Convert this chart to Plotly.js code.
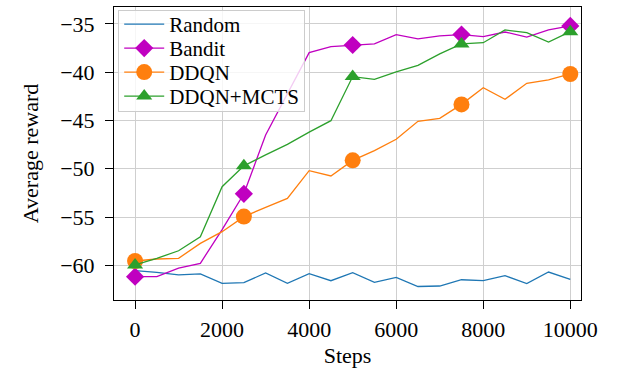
<!DOCTYPE html>
<html>
<head>
<meta charset="utf-8">
<script src="https://cdn.plot.ly/plotly-3.0.1.min.js"></script>
<style>html,body{margin:0;padding:0;background:#fff;}#chart{width:620px;height:373px;}</style>
</head>
<body>
<div id="chart"></div>
<script>
const steps = [0,500,1000,1500,2000,2500,3000,3500,4000,4500,5000,5500,6000,6500,7000,7500,8000,8500,9000,9500,10000];
const markerSteps = [0,2500,5000,7500,10000];
const randomReward = [-60.56,-60.73,-61.0,-60.9,-61.87,-61.8,-60.8,-61.87,-60.87,-61.6,-60.77,-61.77,-61.25,-62.2,-62.15,-61.5,-61.6,-61.08,-61.9,-60.7,-61.46];
const banditReward = [-61.18,-61.18,-60.3,-59.8,-56.3,-52.6,-46.5,-42.3,-37.97,-37.35,-37.18,-37.07,-36.1,-36.55,-36.24,-36.1,-36.3,-35.83,-36.35,-35.62,-35.2];
const ddqnReward = [-59.56,-59.35,-59.28,-57.73,-56.52,-54.96,-54.0,-53.07,-50.2,-50.75,-49.13,-48.13,-46.95,-45.08,-44.77,-43.33,-41.6,-42.8,-41.15,-40.8,-40.18];
const mctsReward = [-59.97,-59.28,-58.5,-57.04,-51.86,-49.7,-48.57,-47.47,-46.2,-45.02,-40.45,-40.74,-39.97,-39.28,-38.1,-37.07,-36.94,-35.62,-35.9,-36.87,-35.8];
const seriesNames = ['Random','Bandit','DDQN','DDQN+MCTS'];
const seriesColors = ['#1f77b4','#c000c0','#ff7f0e','#2ca02c'];
const seriesSymbols = [null,'diamond','circle','triangle-up'];
const seriesMarkerSizes = [0,14,16,14];
const seriesData = [randomReward, banditReward, ddqnReward, mctsReward];

const mIdx = steps.map((s,i)=>markerSteps.includes(s)?i:-1).filter(i=>i>=0);

const traces = [];
seriesData.forEach((ys,k)=>{
  const hasMarker = seriesSymbols[k] !== null;
  traces.push({x: steps, y: ys, type:'scatter', mode:'lines', line:{color:seriesColors[k], width:1.3}, showlegend:false});
  if(hasMarker){
    traces.push({x: mIdx.map(i=>steps[i]), y: mIdx.map(i=>ys[i]), type:'scatter', mode:'markers',
      marker:{symbol:seriesSymbols[k], size:seriesMarkerSizes[k], color:seriesColors[k], line:{width:0}}, showlegend:false});
  }
});
// legend-only entries
seriesData.forEach((ys,k)=>{
  const hasMarker = seriesSymbols[k] !== null;
  const t = {x:[null], y:[null], type:'scatter', name:seriesNames[k], mode: hasMarker?'lines+markers':'lines',
    line:{color:seriesColors[k], width:1.3}, showlegend:true};
  if(hasMarker) t.marker = {symbol:seriesSymbols[k], size:seriesMarkerSizes[k], color:seriesColors[k], line:{width:0}};
  traces.push(t);
});

const font = {family:'"Liberation Serif","DejaVu Serif",serif', color:'#000'};
const layout = {
  width:620, height:373,
  margin:{l:114, r:39, t:7, b:73},
  paper_bgcolor:'#fff', plot_bgcolor:'#fff',
  font: Object.assign({size:22}, font),
  showlegend:true,
  legend:{x:0.009, y:0.99, xanchor:'left', yanchor:'top', bgcolor:'rgba(255,255,255,0.8)', bordercolor:'#cccccc', borderwidth:1, font:Object.assign({size:21},font), tracegroupgap:0, itemwidth:40},
  xaxis:{range:[-484,10246], tickvals:[0,2000,4000,6000,8000,10000], ticktext:['0','2000','4000','6000','8000','10000'],
    showgrid:true, gridcolor:'#cfcfcf', gridwidth:1, zeroline:false, showline:true, linecolor:'#000', linewidth:1, mirror:true,
    ticks:'outside', ticklen:8, tickcolor:'#000', tickfont:Object.assign({size:22},font), ticklabelstandoff:2,
    title:{text:'Steps', font:Object.assign({size:22},font), standoff:6}},
  yaxis:{range:[-63.6,-33.24], tickvals:[-60,-55,-50,-45,-40,-35],
    showgrid:true, gridcolor:'#cfcfcf', gridwidth:1, zeroline:false, showline:true, linecolor:'#000', linewidth:1, mirror:true,
    ticks:'outside', ticklen:8, tickcolor:'#000', tickfont:Object.assign({size:22},font), ticklabelstandoff:6,
    title:{text:'Average reward', font:Object.assign({size:22},font), standoff:15}}
};
Plotly.newPlot('chart', traces, layout, {displayModeBar:false, staticPlot:true}).then(gd=>{
  // tighten legend row spacing to match the reference (about 24px per row)
  try {
    const items = Array.from(gd.querySelectorAll('.legend .traces'));
    if(items.length > 1){
      const parse = el => { const m = /translate\(([-\d.]+)[ ,]+([-\d.]+)\)/.exec(el.getAttribute('transform')||''); return m ? [parseFloat(m[1]), parseFloat(m[2])] : null; };
      const p0 = parse(items[0]), p1 = parse(items[1]);
      if(p0 && p1){
        const oldGap = p1[1]-p0[1], newGap = 24, lift = 7;
        items.forEach((el,i)=>{ const p = parse(el); if(p) el.setAttribute('transform', `translate(${p[0]},${p0[1]-lift+i*newGap})`); });
        const shrink = (oldGap-newGap)*(items.length-1) + 13;
        const bg = gd.querySelector('.legend rect.bg');
        if(bg){ bg.setAttribute('height', parseFloat(bg.getAttribute('height'))-shrink); }
      }
    }
  } catch(e) {}
});
</script>
</body>
</html>
